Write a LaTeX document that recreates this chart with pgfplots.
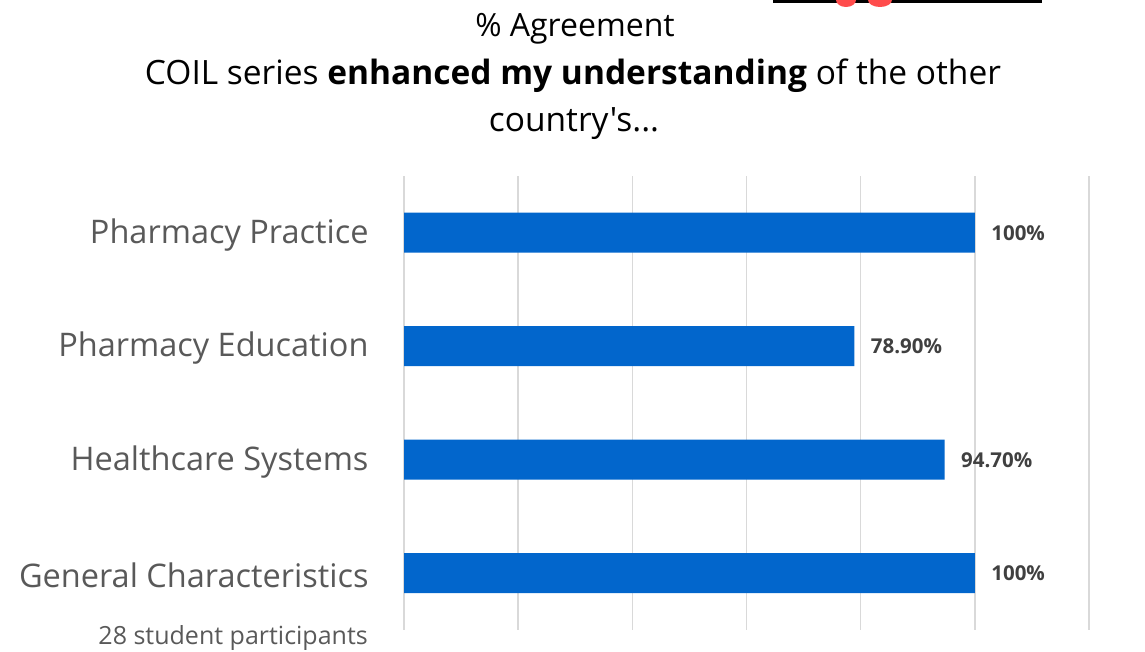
\documentclass[border=0pt]{standalone}
\usepackage{pgfplots}
\pgfplotsset{compat=1.18}
\usepackage{fontspec}
\setmainfont{Open Sans}
\newfontfamily\osplain{Open Sans}
\definecolor{barblue}{RGB}{2,102,204}
\definecolor{gridgray}{RGB}{217,217,217}
\definecolor{labgray}{RGB}{89,89,89}
\definecolor{datgray}{RGB}{64,64,64}
\begin{document}
\begin{tikzpicture}[x=1pt,y=1pt]
\path[use as bounding box] (0,0) rectangle (1145,652);
% cropped image fragment at the top
\fill[black] (773,649) rectangle (1042,652);
\fill[red!70!white] (846,652) ellipse (10 and 7);
\fill[red!70!white] (880,652) ellipse (12 and 7);
% titles
\node[font=\fontsize{32}{38}\selectfont] at (575,623) {\% Agreement};
\node[font=\fontsize{33.5}{40}\selectfont] at (573,576) {COIL series \textbf{enhanced my understanding} of the other};
\node[font=\fontsize{33.5}{40}\selectfont] at (574,528) {\osplain country's...};
\begin{axis}[
  at={(404pt,22pt)}, anchor=south west,
  scale only axis, width=685pt, height=454pt,
  xbar, bar width=40pt,
  xmin=0, xmax=120, ymin=-0.5, ymax=3.5,
  xtick={0,20,...,120}, xticklabels={},
  xmajorgrids, major grid style={gridgray, line width=1.5pt},
  ytick={0,1,2,3},
  yticklabels={General Characteristics, Healthcare Systems, Pharmacy Education, Pharmacy Practice},
  yticklabel style={font=\fontsize{32.5}{38}\selectfont, text=labgray, inner sep=0pt, xshift=-31pt, yshift=-2pt},
  tick style={draw=none},
  axis line style={draw=none},
  clip=false,
  point meta=explicit symbolic,
  nodes near coords,
  nodes near coords style={font=\fontsize{20.5}{24}\selectfont\bfseries, text=datgray, anchor=west, xshift=13pt},
]
\addplot[fill=barblue, draw=none] coordinates {
  (100,0) [100\%]
  (94.7,1) [94.70\%]
  (78.9,2) [78.90\%]
  (100,3) [100\%]
};
\end{axis}
\node[font=\fontsize{25}{30}\selectfont, text=labgray, anchor=east, inner sep=0pt] at (368,14) {28 student participants};
\end{tikzpicture}
\end{document}
